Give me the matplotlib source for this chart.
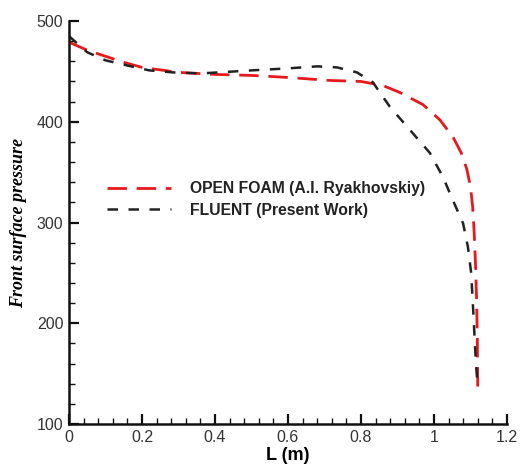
import matplotlib
matplotlib.use("Agg")
import matplotlib.pyplot as plt
from matplotlib.ticker import MultipleLocator

# OPEN FOAM (A.I. Ryakhovskiy)
foam_x = [0.0, 0.05, 0.1, 0.15, 0.2, 0.3, 0.4, 0.5, 0.6, 0.715, 0.8, 0.86, 0.907, 0.97,
          1.016, 1.052, 1.075, 1.09, 1.1, 1.106, 1.11, 1.114, 1.117, 1.119, 1.12]
foam_y = [479, 471, 465, 459, 454, 449, 447, 446, 444, 441, 440, 436, 429, 417,
          402, 385, 369, 353, 336, 316, 292, 258, 222, 182, 137]

# FLUENT (Present Work)
fluent_x = [0.0, 0.05, 0.1, 0.158, 0.22, 0.285, 0.36, 0.41, 0.5, 0.6, 0.68, 0.734, 0.789,
            0.833, 0.879, 0.934, 0.989, 1.025, 1.052, 1.08, 1.093, 1.102, 1.108, 1.115, 1.12]
fluent_y = [485, 469, 461, 456, 451, 449, 448, 449, 451, 453, 455, 454, 449,
            439, 415, 392, 369, 345, 322, 299, 276, 250, 210, 160, 137]

plt.rcParams['font.family'] = ['Liberation Sans', 'DejaVu Sans']

fig = plt.figure(figsize=(5.21, 4.67), dpi=100)
ax = fig.add_axes([0.1324, 0.092, 0.8406, 0.863])

ax.plot(foam_x, foam_y, color="#e8191c", lw=2, dashes=(7, 3.5),
        label="OPEN FOAM (A.I. Ryakhovskiy)")
ax.plot(fluent_x, fluent_y, color="#222222", lw=1.8, dashes=(4.2, 4.2),
        label="FLUENT (Present Work)")

ax.set_xlim(0, 1.2)
ax.set_ylim(100, 500)
ax.xaxis.set_minor_locator(MultipleLocator(0.04))
ax.yaxis.set_major_locator(MultipleLocator(100))
ax.yaxis.set_minor_locator(MultipleLocator(20))
ax.set_xticks([0, 0.2, 0.4, 0.6, 0.8, 1.0, 1.2])
ax.set_xticklabels(["0", "0.2", "0.4", "0.6", "0.8", "1", "1.2"])

for s in ["top", "right"]:
    ax.spines[s].set_visible(False)
for s in ["left", "bottom"]:
    ax.spines[s].set_linewidth(1.8)
    ax.spines[s].set_color("#111111")

ax.tick_params(which="major", direction="in", length=7, width=1.6, color="#111111",
               labelsize=11.5, labelcolor="#333333", pad=4)
ax.tick_params(which="minor", direction="in", length=4, width=1.0, color="#111111")

ax.set_xlabel("L (m)", fontsize=13, fontweight="bold", labelpad=2)
ax.set_ylabel("Front surface pressure", fontsize=13, fontstyle="italic",
              fontweight="bold", family="Liberation Serif", labelpad=7)

leg = ax.legend(loc="upper left", bbox_to_anchor=(0.087, 0.603), frameon=False,
                handlelength=4.1, handletextpad=1.2, labelspacing=0.42,
                borderpad=0, borderaxespad=0,
                prop={"weight": "bold", "size": 11.3})
for t in leg.get_texts():
    t.set_color("#222222")

fig.savefig("out.png", dpi=100)
